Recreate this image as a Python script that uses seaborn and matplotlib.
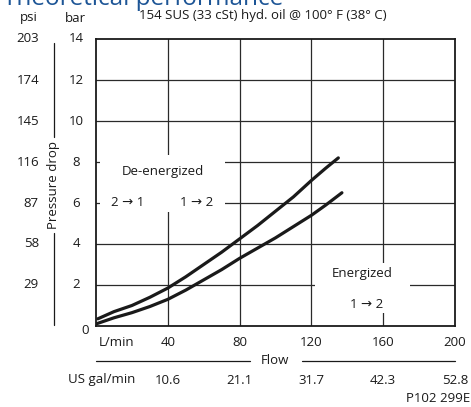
import matplotlib
matplotlib.use("Agg")
import matplotlib.pyplot as plt
import seaborn as sns
import pandas as pd

# ---- data ----
flow_deenergized = [1, 10, 20, 30, 40, 50, 60, 70, 80, 90, 100, 110, 120, 128, 135]
dp_deenergized = [0.35, 0.7, 1.0, 1.4, 1.85, 2.4, 3.0, 3.6, 4.25, 4.9, 5.6, 6.3, 7.1, 7.7, 8.2]
flow_energized = [0, 10, 20, 30, 40, 50, 60, 70, 80, 90, 100, 110, 120, 128, 137]
dp_energized = [0.1, 0.4, 0.65, 0.95, 1.3, 1.75, 2.25, 2.75, 3.3, 3.8, 4.3, 4.85, 5.4, 5.9, 6.5]

lpm_ticks = [40, 80, 120, 160, 200]
gpm_labels = ["10.6", "21.1", "31.7", "42.3", "52.8"]
bar_ticks = [2, 4, 6, 8, 10, 12, 14]
psi_labels = ["29", "58", "87", "116", "145", "174", "203"]

df = pd.concat([
    pd.DataFrame({"flow": flow_deenergized, "dp": dp_deenergized, "mode": "De-energized"}),
    pd.DataFrame({"flow": flow_energized, "dp": dp_energized, "mode": "Energized"}),
])

sns.set_theme(style="white")
plt.rcParams["font.family"] = ["Open Sans", "DejaVu Sans"]

W, H = 471, 407
fig = plt.figure(figsize=(W / 100, H / 100), dpi=100)
ax = fig.add_axes([96 / W, 1 - 326 / H, (455 - 96) / W, (326 - 39) / H])

for xv in lpm_ticks[:-1]:
    ax.axvline(xv, color="#2a2a2a", lw=0.9, zorder=1)
for yv in bar_ticks[:-1]:
    ax.axhline(yv, color="#2a2a2a", lw=0.9, zorder=1)

sns.lineplot(data=df, x="flow", y="dp", units="mode", estimator=None,
             color="#1a1a1a", lw=2.3, ax=ax, zorder=3, legend=False)

ax.set_xlim(0, 200)
ax.set_ylim(0, 14)
ax.set_xticks([])
ax.set_yticks([])
ax.set_xlabel("")
ax.set_ylabel("")
for s in ax.spines.values():
    s.set_color("#1a1a1a")
    s.set_linewidth(1.3)
    s.set_visible(True)

fs = 9.5
tc = "#1a1a1a"

def fx(px):
    return px / W

def fy(py):
    return 1 - py / H

# white masks behind the label blocks
ax.add_patch(plt.Rectangle((2.3, 5.55), 69.5, 2.8, facecolor="white", edgecolor="none", zorder=2))
ax.add_patch(plt.Rectangle((122, 0.63), 53, 2.45, facecolor="white", edgecolor="none", zorder=2))

def ax_text(px, py, s, **kw):
    fig.text(fx(px), fy(py), s, ha="center", va="center", fontsize=fs, color=tc, zorder=5, **kw)

ax_text(163, 172, "De-energized")
ax_text(128, 202, "2 → 1")
ax_text(197, 202, "1 → 2")
ax_text(362, 274, "Energized")
ax_text(367, 305, "1 → 2")

# title (cut off at top as in the reference)
fig.text(fx(3), fy(5), "Theoretical performance", ha="left", va="baseline",
         fontsize=17.5, color="#1d5596")
fig.text(fx(263), fy(16), "154 SUS (33 cSt) hyd. oil @ 100° F (38° C)", ha="center",
         va="center", fontsize=fs, color=tc)
fig.text(fx(29), fy(18), "psi", ha="center", va="center", fontsize=fs, color=tc)
fig.text(fx(75), fy(18), "bar", ha="center", va="center", fontsize=fs, color=tc)

def ypix(v):
    return 326 - v * (326 - 39) / 14

for b, p in zip(bar_ticks, psi_labels):
    fig.text(fx(39), fy(ypix(b)), p, ha="right", va="center", fontsize=fs, color=tc)
    fig.text(fx(76), fy(ypix(b)), str(b), ha="center", va="center", fontsize=fs, color=tc)
fig.text(fx(85), fy(331), "0", ha="center", va="center", fontsize=fs, color=tc)

fig.text(fx(54), fy(185), "Pressure drop", rotation=90, ha="center", va="center",
         fontsize=fs, color=tc)
fig.add_artist(plt.Line2D([fx(54), fx(54)], [fy(43), fy(137)], color=tc, lw=0.9))
fig.add_artist(plt.Line2D([fx(54), fx(54)], [fy(233), fy(325)], color=tc, lw=0.9))

def xpix(v):
    return 96 + v * (455 - 96) / 200

fig.text(fx(117), fy(342), "L/min", ha="center", va="center", fontsize=fs, color=tc)
for v in lpm_ticks:
    fig.text(fx(xpix(v)), fy(342), str(v), ha="center", va="center", fontsize=fs, color=tc)
fig.text(fx(275), fy(361), "Flow", ha="center", va="center", fontsize=fs, color=tc)
fig.add_artist(plt.Line2D([fx(96), fx(250)], [fy(361), fy(361)], color=tc, lw=0.9))
fig.add_artist(plt.Line2D([fx(302), fx(455)], [fy(361), fy(361)], color=tc, lw=0.9))
fig.text(fx(102), fy(380), "US gal/min", ha="center", va="center", fontsize=fs, color=tc)
for v, g in zip(lpm_ticks, gpm_labels):
    fig.text(fx(xpix(v)), fy(380), g, ha="center", va="center", fontsize=fs, color=tc)
fig.text(fx(470), fy(399), "P102 299E", ha="right", va="center", fontsize=fs, color=tc)

fig.savefig("out.png", dpi=100, facecolor="white")
